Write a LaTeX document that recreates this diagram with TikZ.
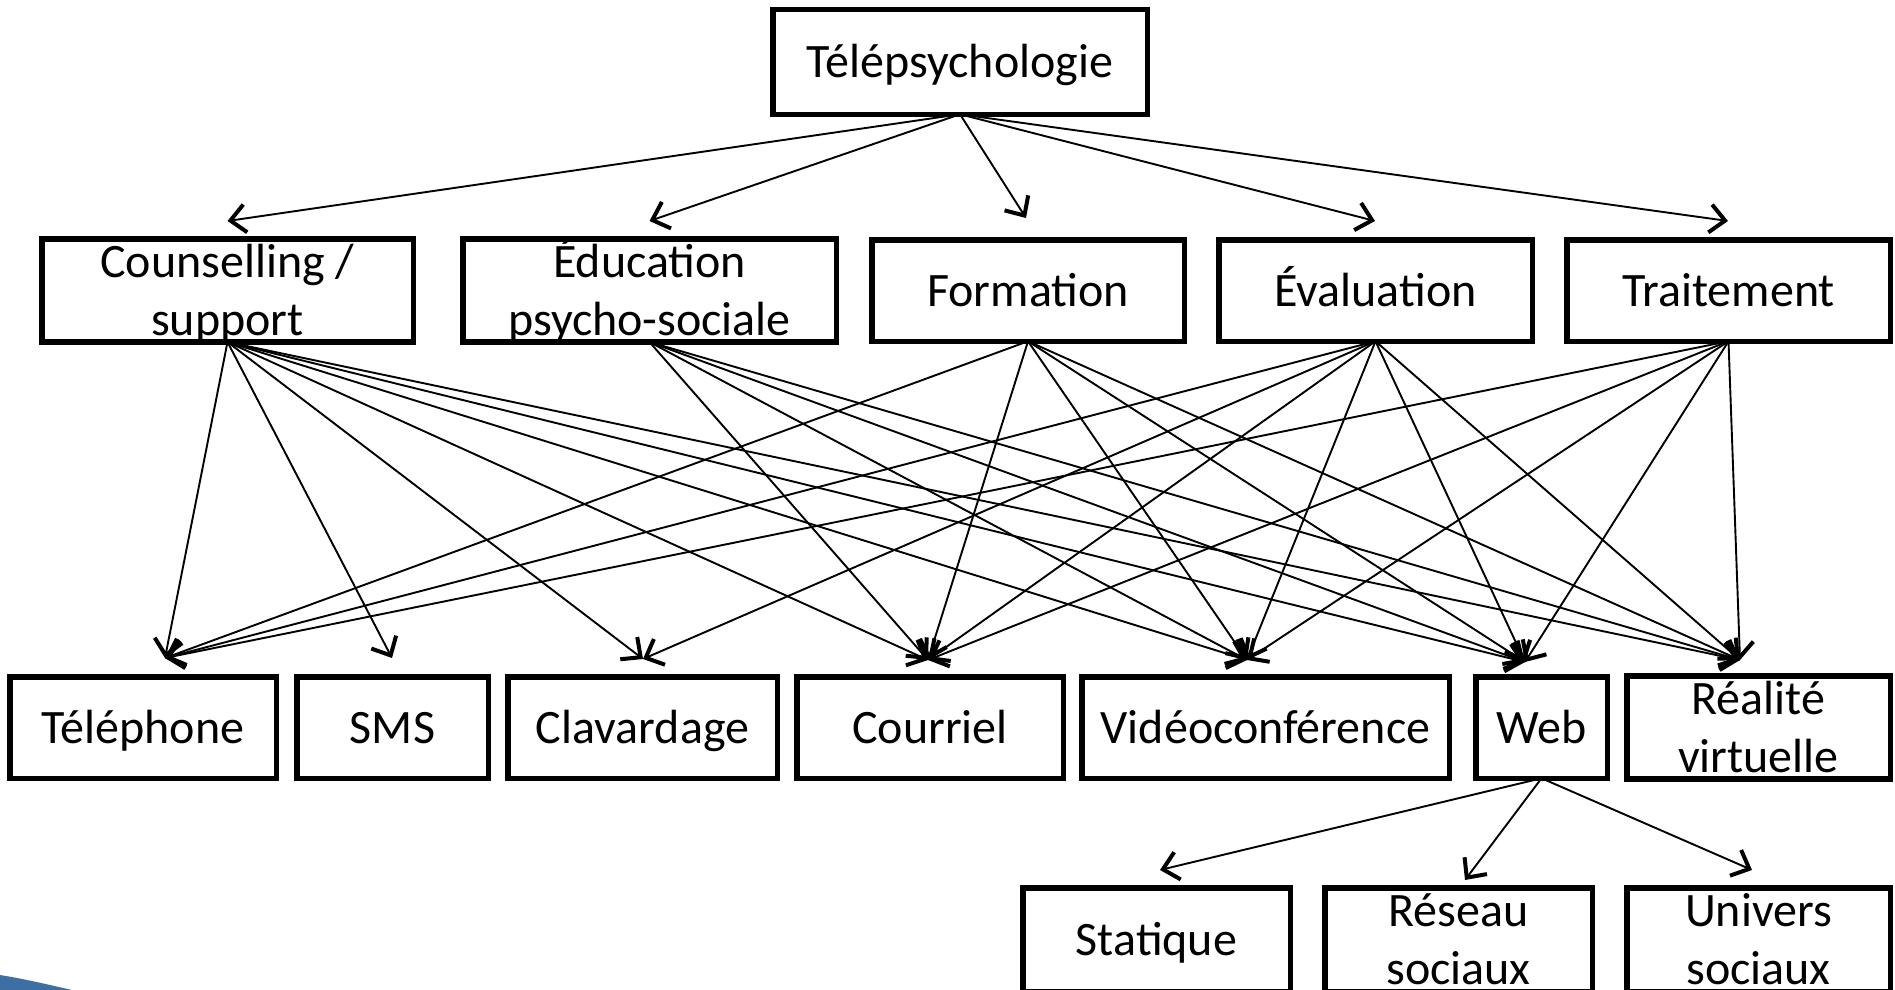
\documentclass[tikz,border=0pt]{standalone}
\usepackage{fontspec}
\setmainfont{Carlito}
\usetikzlibrary{arrows.meta}
\definecolor{swoosh}{HTML}{3D6FA5}
\begin{document}
\begin{tikzpicture}[x=1pt,y=-1pt,
  box/.style={draw, line width=5.5pt, rectangle, inner sep=0pt, outer sep=0pt,
    minimum height=101.5pt, font=\fontsize{48}{58}\selectfont, align=center,
    text height=38pt, text depth=7pt},
  twoline/.style={text height=96pt, text depth=7pt},
  arr/.style={line width=1.9pt, -{Straight Barb[length=15pt,width=28pt,line width=4pt]}},
]
\useasboundingbox (0,0) rectangle (1895,990);
\clip (0,0) rectangle (1895,990);
\fill[white] (0,0) rectangle (1895,990);

% blue swoosh
\fill[swoosh] (0,975) .. controls (25,979) and (50,985) .. (72,990) -- (0,990) -- cycle;

% top
\node[box, minimum width=374.5pt, minimum height=104.5pt] (top) at (960,62) {Télépsychologie};

% second row
\node[box, twoline, minimum width=371.5pt] (cou) at (227.5,290.5) {Counselling /\\support};
\node[box, twoline, minimum width=373.5pt] (edu) at (649.5,290.5) {Éducation\\psycho-sociale};
\node[box, minimum width=312.5pt] (frm) at (1028,290.5) {Formation};
\node[box, minimum width=313.5pt] (eva) at (1375.5,290.5) {Évaluation};
\node[box, minimum width=323.5pt] (tra) at (1728.5,290.5) {Traitement};

% third row
\node[box, minimum width=266.5pt] (tel) at (143,727.5) {Téléphone};
\node[box, minimum width=191.5pt] (sms) at (392.5,727.5) {SMS};
\node[box, minimum width=269.5pt] (cla) at (642.5,727.5) {Clavardage};
\node[box, minimum width=266.5pt] (crr) at (930,727.5) {Courriel};
\node[box, minimum width=367.5pt] (vid) at (1265.5,727.5) {Vidéoconférence};
\node[box, minimum width=131.5pt] (web) at (1541.5,727.5) {Web};
\node[box, twoline, minimum width=263.5pt] (rv) at (1758.5,727.5) {Réalité\\virtuelle};

% fourth row
\node[box, minimum width=267.5pt, minimum height=104pt] (sta) at (1156.5,940) {Statique};
\node[box, twoline, minimum width=267.5pt, minimum height=104pt] (res) at (1458.5,940) {Réseau\\sociaux};
\node[box, twoline, minimum width=263.5pt, minimum height=104pt] (uni) at (1758.5,940) {Univers\\sociaux};

% arrow targets
\coordinate (cou-in) at (227.5,221);
\coordinate (edu-in) at (649.5,221);
\coordinate (frm-in) at (1026,218);
\coordinate (eva-in) at (1375,221);
\coordinate (tra-in) at (1728,221);
\coordinate (tel-in) at (165,658);
\coordinate (sms-in) at (392,658);
\coordinate (cla-in) at (643,659);
\coordinate (crr-in) at (928,660);
\coordinate (vid-in) at (1247,660);
\coordinate (web-in) at (1525,662);
\coordinate (rv-in) at (1740,660);
\coordinate (sta-in) at (1160,870);
\coordinate (res-in) at (1465,880);
\coordinate (uni-in) at (1752,870);

% top to second row
\foreach \t in {cou,edu,frm,eva,tra} \draw[arr] (top.south) -- (\t-in);

% second row to third row
\foreach \t in {tel,sms,cla,crr,vid,web,rv} \draw[arr] (cou.south) -- (\t-in);
\foreach \t in {crr,vid,web,rv} \draw[arr] (edu.south) -- (\t-in);
\foreach \t in {tel,crr,vid,web,rv} \draw[arr] (frm.south) -- (\t-in);
\foreach \t in {tel,cla,crr,vid,web,rv} \draw[arr] (eva.south) -- (\t-in);
\foreach \t in {tel,crr,vid,web,rv} \draw[arr] (tra.south) -- (\t-in);

% web to fourth row
\foreach \t in {sta,res,uni} \draw[arr] (web.south) -- (\t-in);
\end{tikzpicture}
\end{document}
